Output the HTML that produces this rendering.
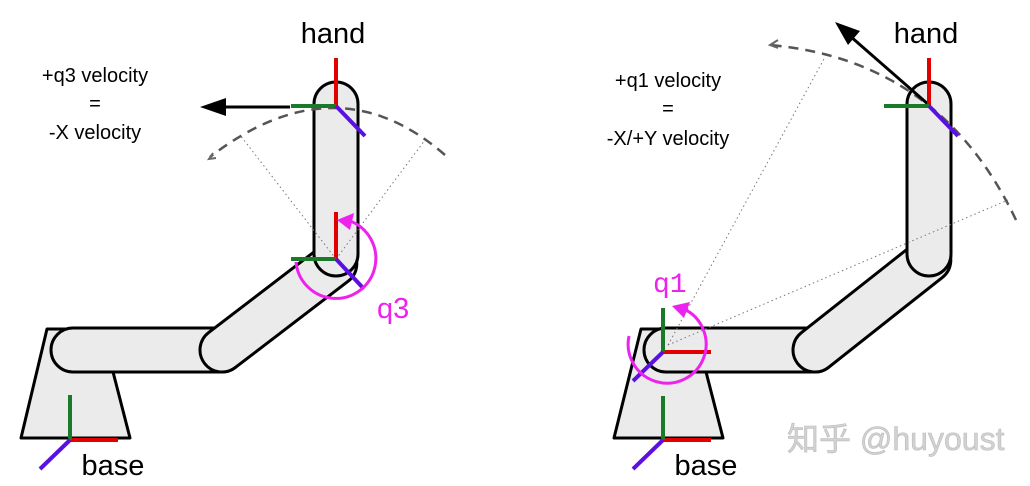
<!DOCTYPE html>
<html><head><meta charset="utf-8"><style>
html,body{margin:0;padding:0;background:#fff;width:1030px;height:486px;overflow:hidden}
svg{display:block}
text{font-family:"Liberation Sans","Noto Sans CJK SC",sans-serif}
</style></head><body>
<svg width="1030" height="486" viewBox="0 0 1030 486" xmlns="http://www.w3.org/2000/svg">
<g stroke="#000" stroke-width="3" fill="#ebebeb" stroke-linejoin="round" stroke-linecap="round">
<!-- LEFT -->
<polygon points="47,329 102,329 130,438 21,438"/>
<path d="M73,328 L222,328 A22,22 0 0 1 222,372 L73,372 A22,22 0 0 1 73,328 Z"/>
<g transform="translate(222,350) rotate(-37.4)"><path d="M0,-22 L142,-22 A22,22 0 0 1 142,22 L0,22 A22,22 0 0 1 0,-22 Z"/></g>
<path d="M314,104 A22,22 0 0 1 358,104 L358,254 A22,22 0 0 1 314,254 Z"/>
<!-- RIGHT -->
<polygon points="641,329 695,329 723,438 614,438"/>
<path d="M666,328 L815,328 A22,22 0 0 1 815,372 L666,372 A22,22 0 0 1 666,328 Z"/>
<g transform="translate(815,350) rotate(-38.3)"><path d="M0,-22 L145,-22 A22,22 0 0 1 145,22 L0,22 A22,22 0 0 1 0,-22 Z"/></g>
<path d="M907,104 A22,22 0 0 1 951,104 L951,254 A22,22 0 0 1 907,254 Z"/>
</g>
<g stroke="#777" stroke-width="1" stroke-dasharray="1.5,3" fill="none">
<line x1="336" y1="259" x2="240" y2="135"/><line x1="336" y1="259" x2="425" y2="140"/>
<line x1="668" y1="345" x2="825" y2="57"/><line x1="668" y1="345" x2="1008" y2="200"/>
</g>
<path d="M445,155 Q336,60 210,157" stroke="#555" stroke-width="2.5" stroke-dasharray="10,7" fill="none"/>
<path d="M213,153 l-4,6 l7,-1" stroke="#666" stroke-width="2" fill="none"/>
<path d="M1016,220 Q940,60 770,45" stroke="#555" stroke-width="2.5" stroke-dasharray="10,7" fill="none"/>
<path d="M778,40 l-8,5 l8,3" stroke="#666" stroke-width="2" fill="none"/>
<line x1="290" y1="107" x2="222" y2="107" stroke="#000" stroke-width="3"/>
<polygon points="200,107 226,98 226,116" fill="#000"/>
<line x1="929" y1="105" x2="850" y2="36" stroke="#000" stroke-width="3"/>
<polygon points="835,22 860,31 848,45" fill="#000"/>
<g stroke-width="4" fill="none">
<line x1="336" y1="106" x2="336" y2="58" stroke="#e00000"/><line x1="336" y1="106" x2="291" y2="106" stroke="#1a7a2a"/><line x1="336" y1="106" x2="365" y2="136" stroke="#5a10e0"/>
<line x1="336" y1="259" x2="336" y2="212" stroke="#e00000"/><line x1="336" y1="259" x2="291" y2="259" stroke="#1a7a2a"/><line x1="336" y1="259" x2="364" y2="289" stroke="#5a10e0"/>
<line x1="70" y1="440" x2="118" y2="440" stroke="#e00000"/><line x1="70" y1="440" x2="70" y2="395" stroke="#1a7a2a"/><line x1="70" y1="440" x2="40" y2="469" stroke="#5a10e0"/>
<line x1="929" y1="106" x2="929" y2="58" stroke="#e00000"/><line x1="929" y1="106" x2="884" y2="106" stroke="#1a7a2a"/><line x1="929" y1="106" x2="958" y2="136" stroke="#5a10e0"/>
<line x1="663" y1="352" x2="711" y2="352" stroke="#e00000"/><line x1="663" y1="352" x2="663" y2="308" stroke="#1a7a2a"/><line x1="663" y1="352" x2="633" y2="381" stroke="#5a10e0"/>
<line x1="663" y1="440" x2="711" y2="440" stroke="#e00000"/><line x1="663" y1="440" x2="663" y2="396" stroke="#1a7a2a"/><line x1="663" y1="440" x2="633" y2="469" stroke="#5a10e0"/>
</g>
<path d="M296,262 A40,40 0 1 0 350,221" stroke="#ee22ee" stroke-width="3" fill="none"/>
<polygon points="337,220 354,213 350,230" fill="#ee22ee"/>
<path d="M629,336 A39,39 0 1 0 684,309" stroke="#ee22ee" stroke-width="3" fill="none"/>
<polygon points="672,306 690,302 684,318" fill="#ee22ee"/>
<text x="377" y="318" font-size="29" fill="#ee22ee">q3</text>
<text x="653" y="292" font-size="28" fill="#ee22ee" style="font-family:'Liberation Mono',monospace">q1</text>
<g fill="#000" text-anchor="middle">
<text x="333" y="43" font-size="29">hand</text>
<text x="113" y="475" font-size="29">base</text>
<text x="926" y="43" font-size="29">hand</text>
<text x="706" y="475" font-size="29">base</text>
<text x="95" y="82" font-size="20">+q3 velocity</text>
<text x="95" y="110" font-size="20">=</text>
<text x="95" y="139" font-size="20">-X velocity</text>
<text x="668" y="87" font-size="20">+q1 velocity</text>
<text x="668" y="115" font-size="20">=</text>
<text x="668" y="145" font-size="20">-X/+Y velocity</text>
</g>
<text x="787" y="450" font-size="32" fill="#d2d2d2" stroke="#bbb" stroke-width="0.6">知乎 @huyoust</text>
</svg>
</body></html>
